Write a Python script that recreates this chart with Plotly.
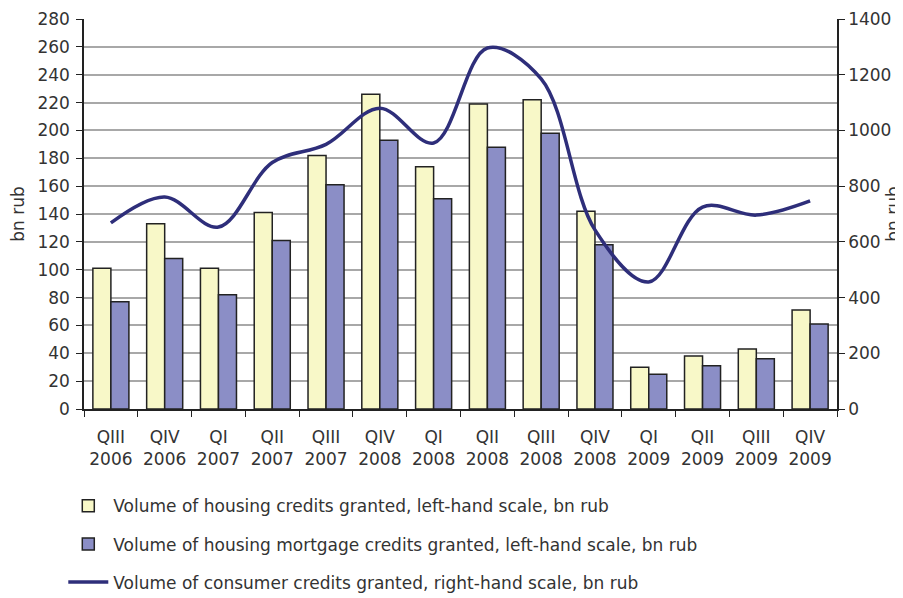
import plotly.graph_objects as go

categories = ["QIII<br>2006", "QIV<br>2006", "QI<br>2007", "QII<br>2007", "QIII<br>2007",
              "QIV<br>2008", "QI<br>2008", "QII<br>2008", "QIII<br>2008", "QIV<br>2008",
              "QI<br>2009", "QII<br>2009", "QIII<br>2009", "QIV<br>2009"]
housing = [101, 133, 101, 141, 182, 226, 174, 219, 222, 142, 30, 38, 43, 71]
mortgage = [77, 108, 82, 121, 161, 193, 151, 188, 198, 118, 25, 31, 36, 61]
consumer = [668, 761, 653, 885, 950, 1080, 955, 1296, 1185, 643, 456, 725, 696, 747]

left_ticks = list(range(0, 281, 20))
right_ticks = list(range(0, 1401, 200))
xpos = list(range(len(categories)))

FONT = "DejaVu Sans"
TXT = "#333333"

fig = go.Figure()
fig.add_trace(go.Bar(
    x=xpos, y=housing, name="Volume of housing credits granted, left-hand scale, bn rub",
    marker=dict(color="#F8F8C8", line=dict(color="#222222", width=1.5)),
    legendgroup="a"))
fig.add_trace(go.Bar(
    x=xpos, y=mortgage, name="Volume of housing mortgage credits granted, left-hand scale, bn rub",
    marker=dict(color="#8B8EC6", line=dict(color="#222222", width=1.5)),
    legendgroup="b"))
fig.add_trace(go.Scatter(
    x=xpos, y=consumer, yaxis="y2", mode="lines",
    line=dict(color="#2E2E7A", width=3.5, shape="spline", smoothing=1.0),
    name="Volume of consumer credits granted, right-hand scale, bn rub",
    legendgroup="c"))

fig.update_layout(
    width=895, height=590,
    margin=dict(l=76, r=66, t=11, b=189, autoexpand=False),
    paper_bgcolor="white", plot_bgcolor="white",
    font=dict(family=FONT, size=17, color=TXT),
    barmode="group", bargap=0.33, bargroupgap=0,
    showlegend=True,
    legend=dict(x=-0.0275, y=0.186, xref="paper", yref="container",
                xanchor="left", yanchor="top",
                orientation="v", traceorder="grouped", tracegroupgap=13,
                font=dict(family=FONT, size=17, color=TXT), itemwidth=40),
    xaxis=dict(range=[-0.5, len(categories) - 0.5], automargin=False,
               tickvals=xpos, ticktext=categories, ticks="",
               ticklabelstandoff=12,
               minor=dict(ticks="outside", tick0=-0.5, dtick=1, ticklen=6,
                          tickcolor="#222222", showgrid=False),
               showline=True, linecolor="#222222", linewidth=1.5,
               tickfont=dict(size=17, color=TXT), showgrid=False, zeroline=False),
    yaxis=dict(range=[0, 280], tickvals=left_ticks, showline=True, linecolor="#222222",
               linewidth=1.5, ticks="outside", ticklen=6, tickcolor="#222222",
               ticklabelstandoff=3, automargin=False,
               showgrid=True, gridcolor="#A8A8A8", gridwidth=1.5,
               tickfont=dict(size=17, color=TXT),
               title=dict(text="bn rub", standoff=34, font=dict(size=17, color=TXT)),
               zeroline=False),
    yaxis2=dict(range=[0, 1400], tickvals=right_ticks, overlaying="y", side="right",
                showline=True, linecolor="#222222", linewidth=1.5, automargin=False,
                ticks="outside", ticklen=6, tickcolor="#222222", showgrid=False,
                tickfont=dict(size=17, color=TXT),
                title=dict(text="bn rub", standoff=18, font=dict(size=17, color=TXT)),
                zeroline=False),
)

fig.write_html("out.html")
